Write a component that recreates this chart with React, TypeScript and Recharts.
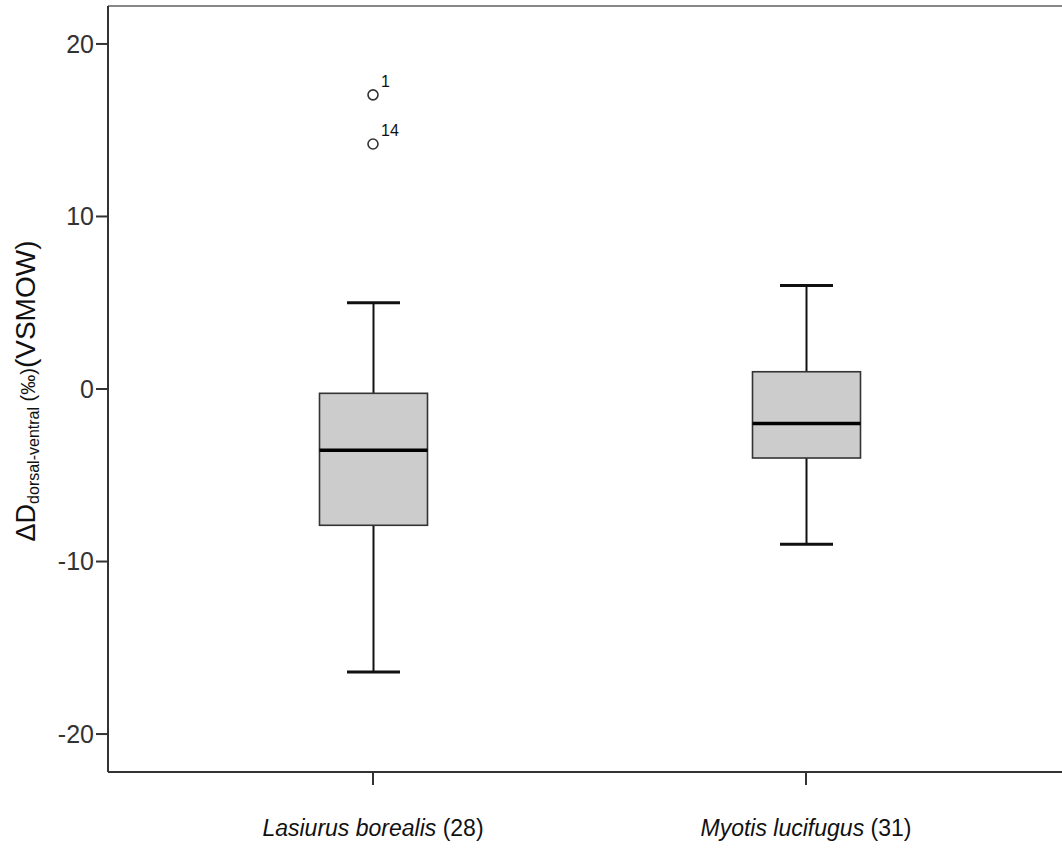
import { ComposedChart, Bar, Scatter, XAxis, YAxis, ReferenceLine } from "recharts";

// group labels and sizes
const categories = ["Lasiurus borealis", "Myotis lucifugus"];
const sampleSizes = [28, 31];

// five-number summaries
const whiskerLow = [-16.4, -9.0];
const q1 = [-7.9, -4.0];
const median = [-3.55, -2.0];
const q3 = [-0.25, 1.0];
const whiskerHigh = [5.0, 6.0];

// outliers (case numbers as in the original)
const outlierValues = [17.05, 14.2];
const outlierIds = ["1", "14"];
const outlierGroup = [0, 0];

const yTicks = [-20, -10, 0, 10, 20];

const FONT = "'Liberation Sans', Arial, sans-serif";

const data = categories.map((name, i) => ({
  name,
  n: sampleSizes[i],
  range: [whiskerLow[i], whiskerHigh[i]],
  q1: q1[i],
  median: median[i],
  q3: q3[i],
}));

const outliers = outlierValues.map((v, i) => ({
  name: categories[outlierGroup[i]],
  value: v,
  id: outlierIds[i],
}));

const BoxShape = (props: any) => {
  const { x, y, width, height, payload } = props;
  if (!payload) return null;
  const top = Math.min(y, y + height);
  const bottom = Math.max(y, y + height);
  const [lo, hi] = payload.range;
  // linear map inside the bar's own range (same as the y scale)
  const toPx = (v: number) => top + ((hi - v) / (hi - lo)) * (bottom - top);
  const cx = x + width / 2;
  const cap = 26.5;
  const yQ1 = toPx(payload.q1);
  const yQ3 = toPx(payload.q3);
  const yMed = toPx(payload.median);
  return (
    <g>
      <line x1={cx} x2={cx} y1={top} y2={yQ3} stroke="#111" strokeWidth={2} />
      <line x1={cx} x2={cx} y1={yQ1} y2={bottom} stroke="#111" strokeWidth={2} />
      <line x1={cx - cap} x2={cx + cap} y1={top} y2={top} stroke="#111" strokeWidth={3} />
      <line x1={cx - cap} x2={cx + cap} y1={bottom} y2={bottom} stroke="#111" strokeWidth={3} />
      <rect
        x={x}
        y={yQ3}
        width={width}
        height={yQ1 - yQ3}
        fill="#cccccc"
        stroke="#333"
        strokeWidth={1.6}
      />
      <line x1={x} x2={x + width} y1={yMed} y2={yMed} stroke="#000" strokeWidth={3.5} />
    </g>
  );
};

const OutlierShape = (props: any) => {
  const { cx, cy, payload } = props;
  return (
    <g>
      <circle cx={cx} cy={cy} r={5} fill="#fff" stroke="#333" strokeWidth={1.6} />
      <text x={cx + 8} y={cy - 8} fontSize={16} fontFamily={FONT} fill="#111">
        {payload.id}
      </text>
    </g>
  );
};

const CategoryTick = (props: any) => {
  const { x, y, payload } = props;
  const i = categories.indexOf(payload.value);
  return (
    <text x={x} y={y} dy={51} textAnchor="middle" fontSize={23} fontFamily={FONT} fill="#111">
      <tspan fontStyle="italic">{payload.value}</tspan>
      <tspan> ({sampleSizes[i]})</tspan>
    </text>
  );
};

const YLabel = () => (
  <text
    x={35}
    y={391}
    transform="rotate(-90, 35, 391)"
    textAnchor="middle"
    fontFamily={FONT}
    fill="#111"
  >
    <tspan fontSize={27}>ΔD</tspan>
    <tspan fontSize={16} dy={4}>dorsal-ventral</tspan>
    <tspan fontSize={20} dy={-4}> (‰)</tspan>
    <tspan fontSize={28}>(VSMOW)</tspan>
  </text>
);

const App = () => {
  return (
    <div
      style={{
        position: "absolute",
        left: 0,
        top: 0,
        width: 1062,
        height: 856,
        overflow: "hidden",
        background: "#fff",
      }}
    >
      <ComposedChart
        width={1100}
        height={856}
        data={data}
        margin={{ top: 6, right: 29, bottom: 0, left: 0 }}
      >
        <XAxis
          dataKey="name"
          type="category"
          allowDuplicatedCategory={false}
          padding={{ left: 48.5, right: 48.5 }}
          height={84}
          tickSize={13}
          tickMargin={0}
          tick={<CategoryTick />}
          axisLine={{ stroke: "#333", strokeWidth: 2 }}
          tickLine={{ stroke: "#333", strokeWidth: 2 }}
        />
        <YAxis
          type="number"
          domain={[-22.2, 22.2]}
          ticks={yTicks}
          allowDataOverflow
          width={108}
          tickSize={12}
          tickMargin={2}
          tick={{ fontSize: 25, fontFamily: FONT, fill: "#333" }}
          axisLine={{ stroke: "#333", strokeWidth: 2 }}
          tickLine={{ stroke: "#333", strokeWidth: 2 }}
          label={{ content: <YLabel /> }}
        />
        <ReferenceLine y={22.2} stroke="#888" strokeWidth={2} ifOverflow="visible" />
        <Bar dataKey="range" barSize={108} shape={<BoxShape />} isAnimationActive={false} />
        <Scatter data={outliers} dataKey="value" shape={<OutlierShape />} isAnimationActive={false} />
      </ComposedChart>
    </div>
  );
};

export default App;
